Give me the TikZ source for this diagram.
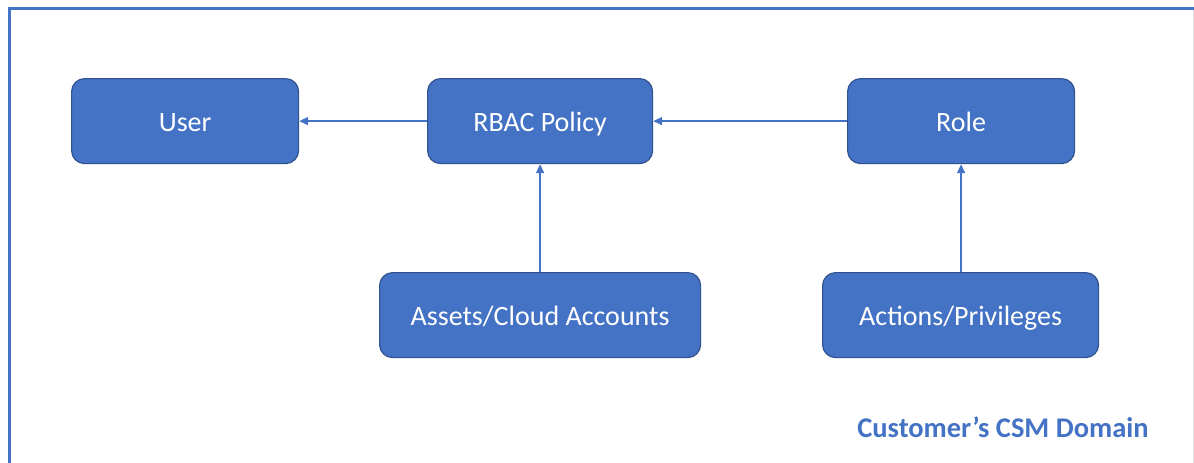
\documentclass[tikz,border=0pt]{standalone}
\usepackage{fontspec}
\setmainfont{Carlito}
\usetikzlibrary{arrows.meta}
\definecolor{boxfill}{HTML}{4472C4}
\definecolor{boxline}{HTML}{2F528F}
\definecolor{frameblue}{HTML}{4472C4}
\tikzset{
  entity/.style={draw=boxline, line width=1.2pt, fill=boxfill, rounded corners=13pt,
    text=white, font=\fontsize{28}{34}\selectfont, inner sep=0pt, anchor=north west,
    text height=22pt, text depth=2pt},
  conn/.style={draw=frameblue, line width=1.6pt, -{Triangle[length=9pt,width=8pt]}},
  domainlabel/.style={text=frameblue, font=\fontsize{28.5}{34}\selectfont\bfseries, inner sep=0pt}
}
\begin{document}
\begin{tikzpicture}[x=1pt,y=-1pt]
\useasboundingbox (0,0) rectangle (1194,463);
\clip (0,0) rectangle (1194,463);
\draw[frameblue, line width=3pt] (9.5,470) -- (9.5,8.5) -- (1196,8.5);
\draw[black!12, line width=0.8pt] (1193,10) -- (1193,470);
\node[entity, minimum width=227pt, minimum height=85pt] (user) at (71,78) {User};
\node[entity, minimum width=225pt, minimum height=85pt] (rbac) at (427,78) {RBAC Policy};
\node[entity, minimum width=227pt, minimum height=85pt] (role) at (847,78) {Role};
\node[entity, minimum width=321pt, minimum height=85pt] (assets) at (379,272) {Assets/Cloud Accounts};
\node[entity, minimum width=276pt, minimum height=85pt] (actions) at (822,272) {Actions/Privileges};
\draw[conn] (rbac.west) -- (user.east);
\draw[conn] (role.west) -- (rbac.east);
\draw[conn] (assets.north -| rbac.south) -- (rbac.south);
\draw[conn] (actions.north -| role.south) -- (role.south);
\node[domainlabel] (domain) at (1003,427) {Customer’s CSM Domain};
\end{tikzpicture}
\end{document}
